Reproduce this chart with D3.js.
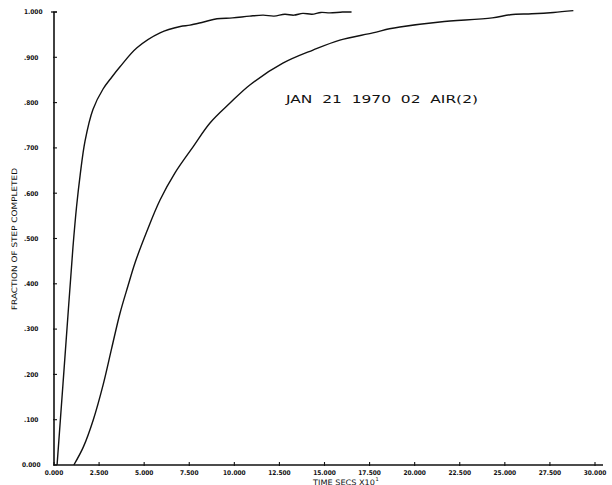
<!DOCTYPE html>
<html>
<head>
<meta charset="utf-8">
<script src="https://cdn.jsdelivr.net/npm/d3@7"></script>
<style>
  html, body { margin: 0; padding: 0; background: #fff; }
  svg { display: block; }
  .tick-lab { font-family: "DejaVu Sans Condensed", "DejaVu Sans", sans-serif; font-size: 6.5px; font-weight: bold; fill: #111; }
  .title { font-family: "DejaVu Sans", sans-serif; fill: #111; }
</style>
</head>
<body>
<svg id="chart" width="612" height="485"></svg>
<script>
/* Step-response plot: fraction of step completed vs time, two runs. */
(function () {
  "use strict";

  var yTicks = [0, 0.1, 0.2, 0.3, 0.4, 0.5, 0.6, 0.7, 0.8, 0.9, 1.0];
  var yLabels = ["0.000", ".100", ".200", ".300", ".400", ".500", ".600", ".700", ".800", ".900", "1.000"];
  var xTicks = [0, 2.5, 5, 7.5, 10, 12.5, 15, 17.5, 20, 22.5, 25, 27.5, 30];
  var xLabels = ["0.000", "2.500", "5.000", "7.500", "10.000", "12.500", "15.000", "17.500", "20.000", "22.500", "25.000", "27.500", "30.000"];

  // fast run (time x10, fraction)
  var fastT = [0.17, 0.5, 0.8, 1.05, 1.25, 1.45, 1.72, 2.16, 2.72, 3.2, 3.66, 4.6, 5.88, 7.0, 7.54, 8.3, 9.04, 9.9, 10.86, 11.6, 12.2, 12.8, 13.3, 13.8, 14.3, 14.8, 15.3, 16.0, 16.5];
  var fastV = [0.0, 0.18, 0.345, 0.48, 0.57, 0.64, 0.715, 0.785, 0.83, 0.856, 0.879, 0.921, 0.954, 0.968, 0.971, 0.978, 0.985, 0.987, 0.991, 0.993, 0.991, 0.995, 0.993, 0.997, 0.995, 0.999, 0.998, 1.0, 1.0];
  // slow run
  var slowT = [1.1, 1.63, 2.18, 2.73, 3.2, 3.66, 4.1, 4.49, 5.14, 5.88, 6.71, 7.72, 8.65, 9.76, 10.86, 12.69, 14.36, 15.85, 17.68, 18.6, 19.18, 21.4, 24.3, 25.3, 26.5, 27.7, 28.8];
  var slowV = [0.0, 0.04, 0.1, 0.178, 0.258, 0.335, 0.395, 0.446, 0.515, 0.585, 0.645, 0.703, 0.755, 0.799, 0.839, 0.887, 0.916, 0.938, 0.954, 0.963, 0.967, 0.978, 0.987, 0.994, 0.996, 0.999, 1.003];

  var annotation = "JAN  21  1970  02  AIR(2)";
  var yTitle = "FRACTION OF STEP COMPLETED";
  var xTitle = "TIME SECS X10";

  var x = d3.scaleLinear().domain([0, 30]).range([54, 595]);
  var y = d3.scaleLinear().domain([0, 1]).range([465, 12]);
  var svg = d3.select("#chart");

  // axes
  svg.append("line").attr("x1", x(0)).attr("x2", x(0)).attr("y1", y(1)).attr("y2", y(0))
    .attr("stroke", "#111").attr("stroke-width", 1.6);
  svg.append("line").attr("x1", x(0)).attr("x2", x(30) + 8).attr("y1", y(0)).attr("y2", y(0))
    .attr("stroke", "#111").attr("stroke-width", 1.3);
  svg.append("line").attr("x1", x(0) - 3).attr("x2", x(0) + 3).attr("y1", y(1)).attr("y2", y(1))
    .attr("stroke", "#111").attr("stroke-width", 1.3);

  svg.selectAll("line.yt").data(yTicks).enter().append("line").attr("class", "yt")
    .attr("x1", x(0) - 1).attr("x2", x(0) + 3).attr("y1", function (d) { return y(d); }).attr("y2", function (d) { return y(d); })
    .attr("stroke", "#111").attr("stroke-width", 1.1);
  svg.selectAll("text.yl").data(yTicks).enter().append("text").attr("class", "tick-lab yl")
    .attr("x", function (d, i) { return i === 0 ? 22 : 24; }).attr("y", function (d) { return y(d) + 2.3; })
    .text(function (d, i) { return yLabels[i]; });

  svg.selectAll("line.xt").data(xTicks).enter().append("line").attr("class", "xt")
    .attr("x1", function (d) { return x(d); }).attr("x2", function (d) { return x(d); })
    .attr("y1", y(0) - 3).attr("y2", y(0) + 1)
    .attr("stroke", "#111").attr("stroke-width", 1.1);
  svg.selectAll("text.xl").data(xTicks).enter().append("text").attr("class", "tick-lab xl")
    .attr("x", function (d) { return x(d); }).attr("y", y(0) + 9.5).attr("text-anchor", "middle")
    .text(function (d, i) { return xLabels[i]; });

  // curves
  var line = d3.line().x(function (d) { return x(d[0]); }).y(function (d) { return y(d[1]); }).curve(d3.curveCatmullRom.alpha(0.5));
  [[fastT, fastV], [slowT, slowV]].forEach(function (s) {
    var pts = s[0].map(function (t, i) { return [t, s[1][i]]; });
    svg.append("path").attr("d", line(pts)).attr("fill", "none").attr("stroke", "#111").attr("stroke-width", 1.4);
  });

  // texts
  svg.append("text").attr("class", "title").attr("x", 286).attr("y", 103)
    .attr("font-size", 10.5).attr("textLength", 192).attr("lengthAdjust", "spacingAndGlyphs")
    .style("white-space", "pre").text(annotation);
  svg.append("text").attr("class", "title").attr("transform", "translate(17,239) rotate(-90)")
    .attr("text-anchor", "middle").attr("font-size", 7.5)
    .attr("textLength", 142).attr("lengthAdjust", "spacingAndGlyphs").text(yTitle);
  var xt = svg.append("text").attr("class", "title").attr("x", 313).attr("y", 484.5).attr("font-size", 7.5);
  xt.append("tspan").attr("textLength", 62).attr("lengthAdjust", "spacingAndGlyphs").text(xTitle);
  xt.append("tspan").attr("dx", 0.5).attr("dy", -3.5).attr("font-size", 5).text("1");
})();
</script>
</body>
</html>
